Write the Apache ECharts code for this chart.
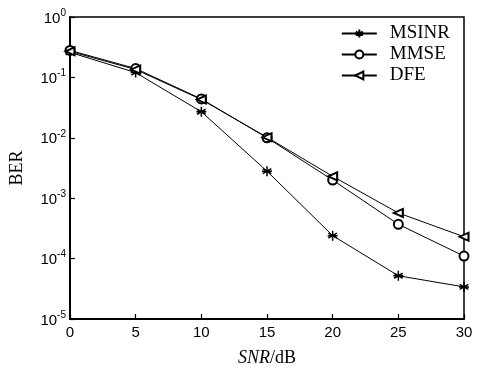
<!DOCTYPE html>
<html>
<head>
<meta charset="utf-8">
<script src="https://cdn.jsdelivr.net/npm/echarts@6/dist/echarts.min.js"></script>
<style>
	html, body { margin: 0; padding: 0; background: #fff; }
	#chart { width: 481px; height: 372px; }
</style>
</head>
<body>
<div id="chart"></div>
<script>
const snrList = [0, 5, 10, 15, 20, 25, 30]
const legendList = ['MSINR', 'MMSE', 'DFE']
const msinrData = [0.26, 0.12, 0.027, 0.0028, 0.00024, 0.000052, 0.000034]
const mmseData = [0.28, 0.14, 0.044, 0.010, 0.0020, 0.00037, 0.00011]
const dfeData = [0.27, 0.135, 0.043, 0.0102, 0.0023, 0.00057, 0.00023]

// 星号标记
const starPath = 'path://M0,-5L0,5M-4.3,-2.5L4.3,2.5M-4.3,2.5L4.3,-2.5M-5,0L5,0'

function toPairs(list) {
	return list.map((v, i) => [snrList[i], v])
}

const myChart = echarts.init(document.getElementById('chart'))
let option = {
	backgroundColor: '#fff',
	animation: false,
	grid: {
		left: 65,
		right: 17,
		top: 17,
		bottom: 43,
		show: true,
		borderColor: '#000',
		borderWidth: 1.5,
	},
	legend: {
		data: legendList,
		orient: 'vertical',
		right: 26,
		top: 19,
		itemWidth: 35,
		itemHeight: 10,
		itemGap: 2,
		textStyle: {
			fontFamily: 'Liberation Serif',
			fontSize: 19,
			lineHeight: 19,
			color: '#000',
			padding: [0, 0, 0, 8],
		},
	},
	xAxis: {
		type: 'value',
		min: 0,
		max: 30,
		interval: 5,
		name: '{i|SNR}{n|/dB}',
		nameLocation: 'middle',
		nameGap: 30,
		nameTextStyle: {
			rich: {
				i: { fontFamily: 'Liberation Serif', fontStyle: 'italic', fontSize: 18, color: '#000' },
				n: { fontFamily: 'Liberation Serif', fontSize: 18, color: '#000' },
			},
		},
		axisLine: { lineStyle: { color: '#000', width: 2 } },
		axisTick: { inside: true, length: 5, lineStyle: { color: '#000', width: 1.2 } },
		axisLabel: {
			fontFamily: 'Liberation Sans',
			fontSize: 15,
			color: '#000',
			margin: 6,
		},
		splitLine: { show: false },
	},
	yAxis: {
		type: 'log',
		logBase: 10,
		min: 1e-5,
		max: 1,
		name: 'BER',
		nameLocation: 'middle',
		nameGap: 44,
		nameTextStyle: {
			fontFamily: 'Liberation Serif',
			fontSize: 18,
			color: '#000',
		},
		axisLine: { lineStyle: { color: '#000', width: 2 } },
		axisTick: { inside: true, length: 5, lineStyle: { color: '#000', width: 1.2 } },
		axisLabel: {
			margin: 4,
			formatter: (v) => '{b|10}{s|' + Math.round(Math.log10(v)) + '}',
			rich: {
				b: { fontFamily: 'Liberation Sans', fontSize: 15, color: '#000', verticalAlign: 'bottom' },
				s: { fontFamily: 'Liberation Sans', fontSize: 10, color: '#000', verticalAlign: 'top', padding: [0, 0, 8, 0] },
			},
		},
		splitLine: { show: false },
		minorTick: { show: false },
	},
	series: [
		{
			name: legendList[0],
			type: 'line',
			data: toPairs(msinrData),
			symbol: starPath,
			symbolSize: [10, 10],
			lineStyle: { color: '#000', width: 1 },
			itemStyle: { color: '#000', borderColor: '#000', borderWidth: 1.5 },
		},
		{
			name: legendList[1],
			type: 'line',
			data: toPairs(mmseData),
			symbol: 'emptyCircle',
			symbolSize: 9,
			lineStyle: { color: '#000', width: 1 },
			itemStyle: { color: '#000', borderWidth: 1 },
		},
		{
			name: legendList[2],
			type: 'line',
			data: toPairs(dfeData),
			symbol: 'emptyTriangle',
			symbolRotate: 90,
			symbolSize: [8, 9],
			lineStyle: { color: '#000', width: 1 },
			itemStyle: { color: '#000', borderWidth: 1 },
		},
	],
}
myChart.setOption(option)
window.addEventListener('resize', () => {
	myChart.resize()
})
</script>
</body>
</html>
